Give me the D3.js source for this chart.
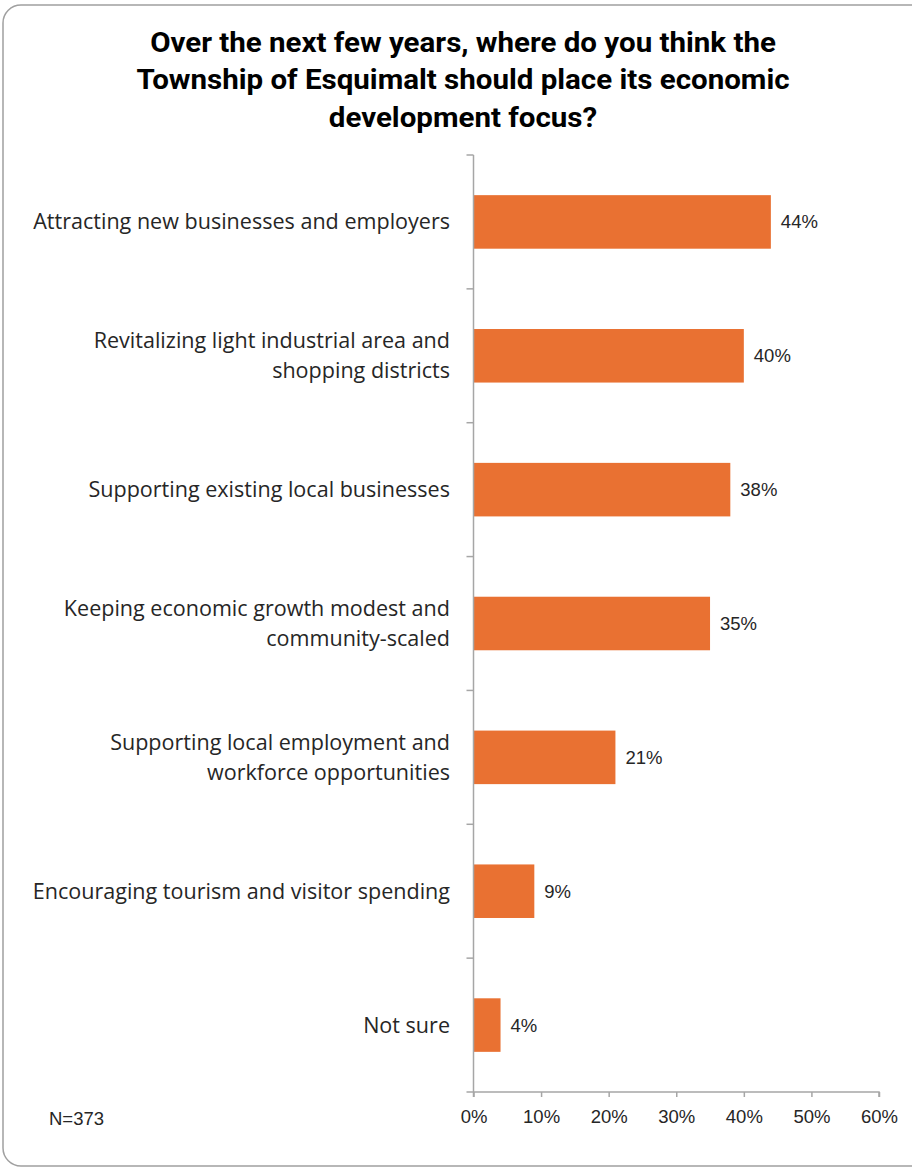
<!DOCTYPE html>
<html><head><meta charset="utf-8">
<script src="https://cdn.jsdelivr.net/npm/d3@7"></script>
<style>body{margin:0;background:#fff}svg{display:block}</style>
</head><body>
<script>
const titleLines = ["Over the next few years, where do you think the", "Township of Esquimalt should place its economic", "development focus?"];
const categories = [
  ["Attracting new businesses and employers"],
  ["Revitalizing light industrial area and", "shopping districts"],
  ["Supporting existing local businesses"],
  ["Keeping economic growth modest and", "community-scaled"],
  ["Supporting local employment and", "workforce opportunities"],
  ["Encouraging tourism and visitor spending"],
  ["Not sure"]
];
const values = [44, 40, 38, 35, 21, 9, 4];
const xTicks = [0, 10, 20, 30, 40, 50, 60];
const note = "N=373";

(function () {
const W = 912, H = 1167;
const svg = d3.select("body").append("svg").attr("width", W).attr("height", H);
svg.append("rect").attr("x", 3).attr("y", 5).attr("width", 940).attr("height", 1161)
  .attr("rx", 18).attr("fill", "#fff").attr("stroke", "#a0a0a0").attr("stroke-width", 1.5);

const pL = 473.5, pR = 879, pT = 155, pB = 1092;
const x = d3.scaleLinear().domain([0, 60]).range([pL, pR]);
const y = d3.scaleBand().domain(d3.range(categories.length)).range([pT, pB]).paddingInner(0.6).paddingOuter(0.3);

// title, horizontally condensed to match the reference's narrow face
const tcx = 463;
const tg = svg.append("g");
const tt = tg.selectAll("text").data(titleLines).join("text")
  .attr("x", tcx).attr("y", (d, i) => 52 + i * 37.5)
  .attr("text-anchor", "middle")
  .attr("font-family", "Roboto, 'Liberation Sans', sans-serif")
  .attr("font-weight", "bold").attr("font-size", 28).attr("fill", "#000")
  .text(d => d);
const w1 = tt.node().getComputedTextLength();
const sx = 626 / w1;
tg.attr("transform", `translate(${tcx},0) scale(${sx},1) translate(${-tcx},0)`);

svg.append("g").selectAll("rect").data(values).join("rect")
  .attr("x", x(0)).attr("y", (d, i) => y(i))
  .attr("width", d => x(d) - x(0)).attr("height", y.bandwidth())
  .attr("fill", "#E97132");

const numFont = "'Liberation Sans', Arial, sans-serif";
svg.append("g").selectAll("text").data(values).join("text")
  .attr("x", d => x(d) + 10).attr("y", (d, i) => y(i) + y.bandwidth() / 2)
  .attr("dy", "0.35em")
  .attr("font-family", numFont).attr("font-size", 18.5).attr("fill", "#262626")
  .text(d => d + "%");

const xAxis = d3.axisBottom(x).tickValues(xTicks).tickFormat(d => d + "%").tickSize(5).tickPadding(13);
const gx = svg.append("g").attr("transform", `translate(0,${pB})`).call(xAxis);
gx.select(".domain").attr("stroke", "#a6a6a6").attr("stroke-width", 1.5).attr("d", `M${pL - 7},0H${pR}V5`);
gx.selectAll(".tick line").attr("stroke", "#a6a6a6").attr("stroke-width", 1.5);
gx.selectAll(".tick text").attr("font-family", numFont).attr("font-size", 18.5).attr("fill", "#262626");

const yStep = (pB - pT) / categories.length;
const bounds = d3.range(categories.length + 1).map(i => pT + i * yStep);
const gy = svg.append("g");
gy.append("line").attr("x1", pL).attr("x2", pL).attr("y1", pT).attr("y2", pB + 5)
  .attr("stroke", "#a6a6a6").attr("stroke-width", 1.5);
gy.selectAll("line.t").data(bounds.slice(0, -1)).join("line").attr("class", "t")
  .attr("x1", pL - 7).attr("x2", pL).attr("y1", d => d).attr("y2", d => d)
  .attr("stroke", "#a6a6a6").attr("stroke-width", 1.5);

const lab = svg.append("g").selectAll("text").data(categories).join("text")
  .attr("text-anchor", "end")
  .attr("font-family", "'Open Sans', 'Noto Sans', sans-serif").attr("font-size", 20).attr("fill", "#262626");
lab.each(function (lines, i) {
  const cy = y(i) + y.bandwidth() / 2;
  const lh = 30;
  const t = d3.select(this);
  lines.forEach((ln, j) => {
    t.append("tspan").attr("x", 450).attr("y", cy + (j - (lines.length - 1) / 2) * lh).attr("dy", "0.35em").text(ln);
  });
});
// fit label font so the first label spans the same width as in the reference
const lw = lab.filter((d, i) => i === 0).node().getComputedTextLength();
lab.attr("font-size", 20 * 417 / lw);

svg.append("text").attr("x", 49).attr("y", 1125)
  .attr("font-family", numFont).attr("font-size", 18.5).attr("fill", "#262626")
  .text(note);
})();
</script>
</body></html>
